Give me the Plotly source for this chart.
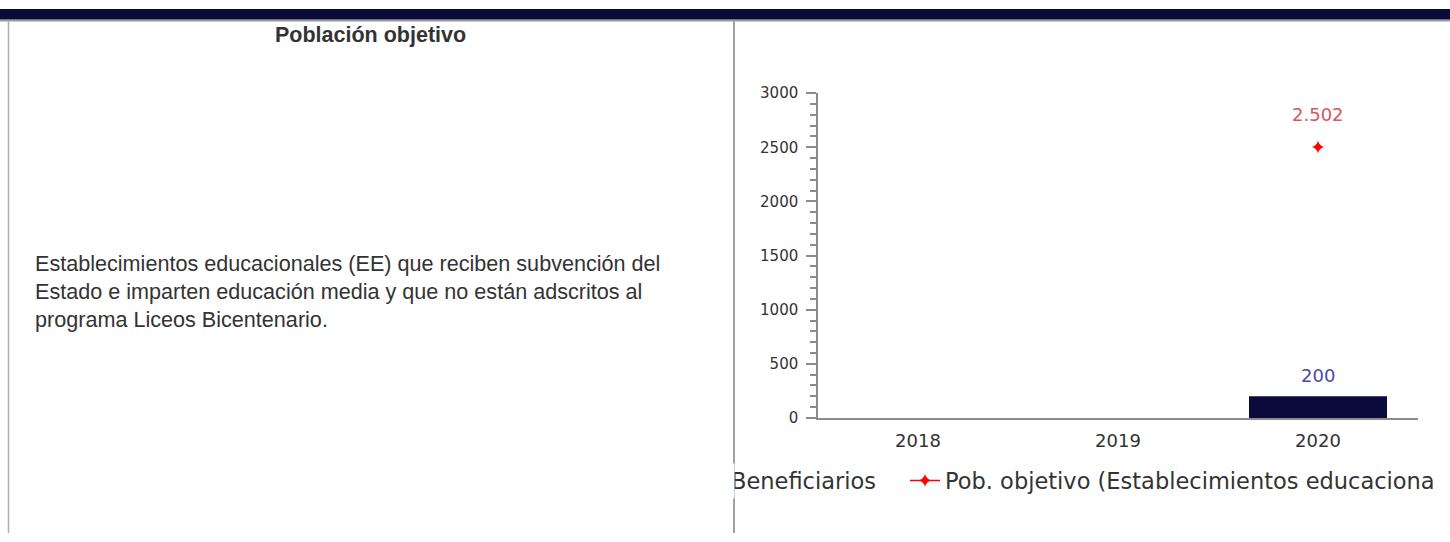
import plotly.graph_objects as go

W, H = 1450, 542

# ---- data ----
years = ["2018", "2019", "2020"]
beneficiarios = [None, None, 200]
pob_objetivo = [None, None, 2502]
bar_labels = ["", "", "200"]
pob_labels = ["", "", "2.502"]
y_ticks = [0, 500, 1000, 1500, 2000, 2500, 3000]

title_text = "Población objetivo"
para_lines = [
    "Establecimientos educacionales (EE) que reciben subvención del",
    "Estado e imparten educación media y que no están adscritos al",
    "programa Liceos Bicentenario.",
]
legend_bar = "Beneficiarios"
legend_pob = "Pob. objetivo (Establecimientos educaciona"

NAVY = "#0b0b3b"
TXT = "#333333"
AX = "#8c8c8c"
CHART_FONT = "DejaVu Sans"


def px(x):
    return x / W


def py(y):
    return 1 - y / H


fig = go.Figure()

fig.add_trace(go.Bar(
    x=years, y=beneficiarios, name=legend_bar, width=0.69,
    marker=dict(color=NAVY, line=dict(color=NAVY, width=0)),
    showlegend=False, hoverinfo="skip",
))
fig.add_trace(go.Scatter(
    x=years, y=pob_objetivo, name=legend_pob, mode="lines+markers",
    line=dict(color="#ff0000", width=1.5),
    marker=dict(symbol="star-diamond", size=9, color="#ff0000"),
    showlegend=True, hoverinfo="skip",
))

annotations = []
# value labels (x given as category index)
for i, (yv, lab) in enumerate(zip(beneficiarios, bar_labels)):
    if yv is not None and lab:
        annotations.append(dict(x=i, y=yv, xref="x", yref="y", text=lab,
                                showarrow=False, yanchor="bottom", yshift=8,
                                font=dict(family=CHART_FONT, size=18, color="#4a4aa8")))
for i, (yv, lab) in enumerate(zip(pob_objetivo, pob_labels)):
    if yv is not None and lab:
        annotations.append(dict(x=i, y=yv, xref="x", yref="y", text=lab,
                                showarrow=False, yanchor="bottom", yshift=20,
                                font=dict(family=CHART_FONT, size=18, color="#d4585e")))

# title and paragraph
annotations.append(dict(x=px(370), y=py(27), xref="paper", yref="paper", text="<b>" + title_text + "</b>",
                        showarrow=False, xanchor="center", yanchor="middle",
                        font=dict(family="Liberation Sans", size=21.5, color=TXT)))
annotations.append(dict(x=px(33), y=py(292.5), xref="paper", yref="paper",
                        text="<br>".join(para_lines), align="left",
                        showarrow=False, xanchor="left", yanchor="middle",
                        font=dict(family="Liberation Sans", size=21.6, color=TXT)))

# legend label for bars (clipped at left by the cell border)
LEG_Y = 488
annotations.append(dict(x=px(729), y=py(LEG_Y), xref="paper", yref="paper", text=legend_bar,
                        showarrow=False, xanchor="left", yanchor="middle",
                        font=dict(family=CHART_FONT, size=22.5, color=TXT)))
annotations.append(dict(x=px(712), y=py(LEG_Y), xref="paper", yref="paper", text=" ",
                        showarrow=False, xanchor="left", yanchor="middle",
                        width=21, height=34, bgcolor="white", borderpad=0,
                        font=dict(size=22)))

shapes = [
    dict(type="rect", xref="paper", yref="paper", x0=0, x1=1, y0=py(11), y1=1,
         fillcolor=NAVY, line=dict(width=0), layer="below"),
    dict(type="line", xref="paper", yref="paper", x0=0, x1=1, y0=py(12), y1=py(12),
         line=dict(color="#9a9a9a", width=2), layer="below"),
    dict(type="line", xref="paper", yref="paper", x0=px(8.5), x1=px(8.5), y0=py(12), y1=0,
         line=dict(color="#b0b0b0", width=1.5), layer="below"),
    dict(type="line", xref="paper", yref="paper", x0=px(734), x1=px(734), y0=py(12), y1=0,
         line=dict(color="#a0a0a0", width=2), layer="below"),
]

fig.update_layout(
    width=W, height=H,
    margin=dict(l=0, r=0, t=0, b=0),
    paper_bgcolor="white", plot_bgcolor="white",
    annotations=annotations, shapes=shapes,
    legend=dict(orientation="h", x=px(905), y=py(LEG_Y), xanchor="left", yanchor="middle",
                font=dict(family=CHART_FONT, size=22.5, color=TXT),
                bgcolor="rgba(0,0,0,0)", borderwidth=0),
    xaxis=dict(domain=[px(818), px(1418)], type="category", categoryorder="array",
               categoryarray=years, range=[-0.5, 2.5],
               showline=True, linecolor=AX, linewidth=1.5, ticks="",
               showgrid=False, zeroline=False,
               tickfont=dict(family=CHART_FONT, size=18, color=TXT), ticklabelstandoff=6),
    yaxis=dict(domain=[py(423), py(87)], range=[0, 3000],
               tickvals=y_ticks, ticktext=[str(v) for v in y_ticks],
               showline=True, linecolor=AX, linewidth=1.5,
               ticks="outside", ticklen=10, tickwidth=1.5, tickcolor=AX,
               minor=dict(dtick=100, ticks="outside", ticklen=6, tickwidth=1.5, tickcolor=AX),
               showgrid=False, zeroline=False,
               tickfont=dict(family=CHART_FONT, size=15, color=TXT), ticklabelstandoff=5),
)

post = (
    "var de=document.documentElement, b=document.body;"
    "de.style.margin='0';de.style.padding='0';de.style.overflow='hidden';"
    "b.style.margin='0';b.style.padding='0';b.style.overflow='hidden';"
    "var d=document.getElementById('{plot_id}');"
    "d.style.position='fixed';d.style.left='0px';d.style.top='0px';d.style.margin='0';"
)
fig.write_html("out.html", config={"displayModeBar": False}, post_script=post)
